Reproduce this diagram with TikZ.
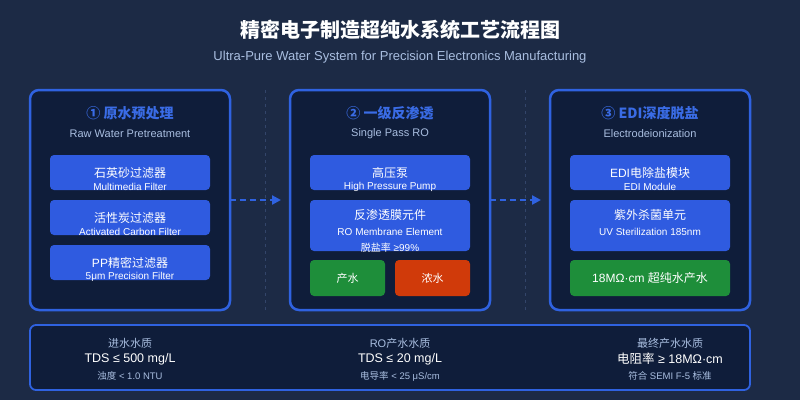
\documentclass[tikz,border=0pt]{standalone}
\usepackage{fontspec}
\setmainfont{Liberation Sans}
\newfontfamily\cjk{Noto Sans CJK SC}
\newcommand{\zh}[1]{{\cjk #1}}
\usetikzlibrary{arrows.meta,positioning}
\definecolor{bgc}{HTML}{1C2A45}
\definecolor{panelc}{HTML}{0F1D3A}
\definecolor{edgec}{HTML}{2F62E0}
\definecolor{boxc}{HTML}{2F5BE0}
\definecolor{headc}{HTML}{3A6CE6}
\definecolor{subc}{HTML}{A9BEE0}
\definecolor{greenc}{HTML}{1E8E3A}
\definecolor{redc}{HTML}{D03A0A}
\definecolor{sepc}{HTML}{33456A}

\begin{document}
\begin{tikzpicture}[
    x = 1pt, y = -1pt, % pixel grid, y down
    every node/.style = {inner sep = 0pt},
    panel/.style = {draw = edgec, line width = 2.5pt, fill = panelc, rounded corners = 9pt},
    box/.style = {fill = boxc, rounded corners = 4pt},
    head/.style = {text = headc, font = \bfseries\fontsize{14}{16}\selectfont},
    sub/.style = {text = subc, font = \fontsize{11}{13}\selectfont},
    cn/.style = {text = white, font = \fontsize{12}{14}\selectfont},
    en/.style = {text = white, font = \fontsize{10}{12}\selectfont},
    flow/.style = {draw = edgec, line width = 2.5pt, dash pattern = on 6pt off 4pt, -{Triangle[length = 9pt, width = 9pt]}}
    ]

    \fill[bgc] (0,0) rectangle (800,400);
    \useasboundingbox (0,0) rectangle (800,400);

    \node[text = white, font = \cjk\bfseries\fontsize{20}{24}\selectfont] (title) at (400,30) {精密电子制造超纯水系统工艺流程图};
    \node[sub, font = \fontsize{13}{15}\selectfont] (subtitle) at (400,57) {Ultra-Pure Water System for Precision Electronics Manufacturing};

    % separators
    \foreach \sx in {265,525}
      \draw[sepc, line width = 1pt, dash pattern = on 3pt off 4pt] (\sx,90) -- (\sx,310);

    % panels
    \foreach \px/\name in {30/pa, 290/pb, 550/pc}
      \draw[panel] (\px,90) rectangle ++(200,220) coordinate (\name);

    % stage 1
    \node[head] (h1) at (130,113) {\zh{① 原水预处理}};
    \node[sub] (s1) at (130,134) {Raw Water Pretreatment};
    \foreach \by/\c/\e [count = \i] in {155/{\zh{石英砂过滤器}}/{Multimedia Filter}, 200/{\zh{活性炭过滤器}}/{Activated Carbon Filter}, 245/{PP\zh{精密过滤器}}/{5μm Precision Filter}} {
      \fill[box] (50,\by) rectangle ++(160,35);
      \node[cn] (a\i) at (130,\by+18) {\c};
      \node[en] (b\i) at (130,\by+32) {\e};
    }

    % stage 2
    \node[head] (h2) at (390,113) {\zh{② 一级反渗透}};
    \node[sub] (s2) at (390,134) {Single Pass RO};
    \fill[box] (310,155) rectangle ++(160,35);
    \node[cn] (pump) at (390,173) {\zh{高压泵}};
    \node[en] (pumpen) at (390,187) {High Pressure Pump};
    \fill[box] (310,200) rectangle ++(160,51);
    \node[cn] (ro) at (390,215) {\zh{反渗透膜元件}};
    \node[en] (roen) at (390,232) {RO Membrane Element};
    \node[en] (rate) at (390,248) {\zh{脱盐率} ≥99\%};
    \fill[greenc, rounded corners = 4pt] (310,260) rectangle ++(75,36);
    \node[en, font = \cjk\fontsize{11}{13}\selectfont] (prod) at (347.5,278) {产水};
    \fill[redc, rounded corners = 4pt] (395,260) rectangle ++(75,36);
    \node[en, font = \cjk\fontsize{11}{13}\selectfont] (conc) at (432.5,278) {浓水};

    % stage 3
    \node[head] (h3) at (650,113) {\zh{③ EDI深度脱盐}};
    \node[sub] (s3) at (650,134) {Electrodeionization};
    \fill[box] (570,155) rectangle ++(160,35);
    \node[cn] (edi) at (650,173) {EDI\zh{电除盐模块}};
    \node[en] (edien) at (650,187) {EDI Module};
    \fill[box] (570,200) rectangle ++(160,51);
    \node[cn] (uv) at (650,215) {\zh{紫外杀菌单元}};
    \node[en] (uven) at (650,232) {UV Sterilization 185nm};
    \fill[greenc, rounded corners = 4pt] (570,260) rectangle ++(160,36);
    \node[cn] (upw) at (650,278) {18MΩ·cm \zh{超纯水产水}};

    % flow arrows
    \coordinate (o1) at (230,200);
    \coordinate (i2) at (281,200);
    \coordinate (o2) at (490,200);
    \coordinate (i3) at (541,200);
    \draw[flow] (o1) -- (i2);
    \draw[flow] (o2) -- (i3);

    % quality bar
    \draw[draw = edgec, line width = 1.8pt, fill = panelc, rounded corners = 6pt] (30,325) rectangle (750,390);
    \foreach \qx/\qa/\qb/\qc [count = \i] in {130/{\zh{进水水质}}/{TDS ≤ 500 mg/L}/{\zh{浊度} < 1.0 NTU}, 400/{RO\zh{产水水质}}/{TDS ≤ 20 mg/L}/{\zh{电导率} < 25 μS/cm}, 670/{\zh{最终产水水质}}/{\zh{电阻率} ≥ 18MΩ·cm}/{\zh{符合} SEMI F-5 \zh{标准}}} {
      \node[sub, font = \fontsize{11}{13}\selectfont] (q\i) at (\qx,343) {\qa};
      \node[cn, font = \fontsize{12.5}{14}\selectfont] (v\i) at (\qx,359) {\qb};
      \node[sub, font = \fontsize{9.5}{11}\selectfont] (n\i) at (\qx,376) {\qc};
    }
\end{tikzpicture}
\end{document}
